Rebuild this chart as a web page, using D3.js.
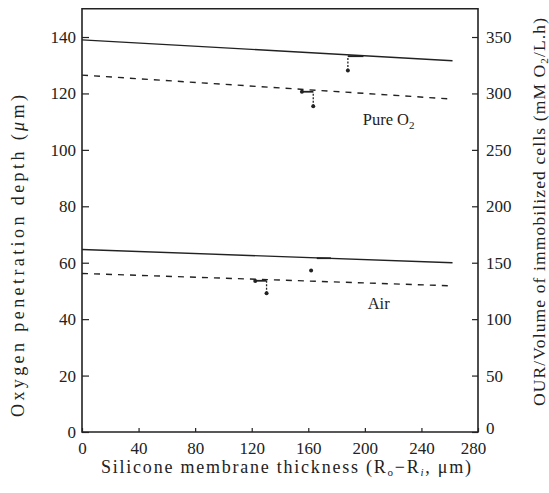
<!DOCTYPE html>
<html><head><meta charset="utf-8">
<script src="https://cdn.jsdelivr.net/npm/d3@7"></script>
<style>
html,body{margin:0;padding:0;background:#fff;}
text{font-family:"Liberation Serif","DejaVu Serif",serif;fill:#222;}
</style></head>
<body><svg id="c" width="549" height="493"></svg>
<script>
// ---- data ----
const xTicks = [0, 40, 80, 120, 160, 200, 240, 280];
const yLeftTicks = [0, 20, 40, 60, 80, 100, 120, 140];
const yRightTicks = [0, 50, 100, 150, 200, 250, 300, 350];
const lineX = [0, 262];
const pureSolid = [139.0, 131.6];
const pureDashed = [126.5, 118.0];
const airSolid = [64.7, 60.0];
const airDashed = [56.2, 51.8];
// measured points
const pointX = [188, 155.5, 163.5, 162, 122.5, 130.5];
const pointY = [128.1, 120.6, 115.5, 57.2, 53.5, 49.2];
// vertical error bars
const barX = [188, 163.5, 130.5];
const barLow = [128.1, 115.5, 49.2];
const barHigh = [133.2, 120.6, 53.6];
// horizontal markers
const capX1 = [188, 155.5, 166, 122.5];
const capX2 = [199, 163.5, 176, 130.5];
const capY = [133.2, 120.6, 61.6, 53.6];
const labels = [{t: "Pure O", sub: "2", x: 198.5, y: 111}, {t: "Air", sub: "", x: 202, y: 45.5}];

const svg = d3.select("#c");
const x = d3.scaleLinear().domain([0, 280]).range([82, 478]);
const y = d3.scaleLinear().domain([0, 150]).range([432, 8.8]);
const yR = d3.scaleLinear().domain([0, 375]).range([432, 8.8]);

const axisStyle = g => { g.select(".domain").remove(); g.selectAll("line").attr("stroke", "#222").attr("stroke-width", 1.2); g.selectAll("text").attr("font-size", 17).attr("fill", "#222").style("font-family", "Liberation Serif"); };

// frame
svg.append("path").attr("d", `M${x(0)},${y(150)}H${x(280)}V${y(0)}H${x(0)}Z`).attr("fill", "none").attr("stroke", "#222").attr("stroke-width", 1.6);

svg.append("g").attr("transform", `translate(${x(0)},0)`)
  .call(d3.axisLeft(y).tickValues(yLeftTicks).tickSize(-7).tickPadding(6).tickFormat(d3.format("d")))
  .call(axisStyle);
const gr = svg.append("g").attr("transform", `translate(${x(280)},0)`)
  .call(d3.axisRight(yR).tickValues(yRightTicks).tickSize(-6).tickPadding(8).tickFormat(d3.format("d")))
  .call(axisStyle);
const gb = svg.append("g").attr("transform", `translate(0,${y(0)})`)
  .call(d3.axisBottom(x).tickValues(xTicks).tickSize(-4).tickPadding(10).tickFormat(d3.format("d")))
  .call(axisStyle);
// the last bottom label sits slightly left of the corner, as in the original
gb.selectAll(".tick text").filter(d => d === 280).attr("dx", -5);
gr.selectAll(".tick text").filter(d => d === 0).attr("dy", "0.1em");

const line = d3.line().x(d => x(d[0])).y(d => y(d[1]));
function drawLine(vals, dashed) {
  svg.append("path").datum(lineX.map((v, i) => [v, vals[i]])).attr("d", line)
    .attr("fill", "none").attr("stroke", "#222").attr("stroke-width", 1.4)
    .attr("stroke-dasharray", dashed ? "6,6" : null);
}
drawLine(pureSolid, false);
drawLine(pureDashed, true);
drawLine(airSolid, false);
drawLine(airDashed, true);

svg.selectAll(".bar").data(barX).join("line")
  .attr("x1", d => x(d)).attr("x2", d => x(d))
  .attr("y1", (d, i) => y(barLow[i])).attr("y2", (d, i) => y(barHigh[i]))
  .attr("stroke", "#222").attr("stroke-width", 1.3).attr("stroke-dasharray", "2,1.5");
svg.selectAll(".cap").data(capX1).join("line")
  .attr("x1", d => x(d)).attr("x2", (d, i) => x(capX2[i]))
  .attr("y1", (d, i) => y(capY[i])).attr("y2", (d, i) => y(capY[i]))
  .attr("stroke", "#222").attr("stroke-width", 1.8);
svg.selectAll(".pt").data(pointX).join("circle")
  .attr("cx", d => x(d)).attr("cy", (d, i) => y(pointY[i])).attr("r", 2).attr("fill", "#222");

labels.forEach(l => {
  const t = svg.append("text").attr("x", x(l.x)).attr("y", y(l.y)).attr("dy", "0.35em").attr("font-size", 16.5).text(l.t);
  if (l.sub) t.append("tspan").attr("font-size", 11).attr("dy", 4).text(l.sub);
});

// axis titles
const xt = svg.append("text").attr("x", 286).attr("y", 473).attr("text-anchor", "middle").attr("font-size", 18)
  .attr("textLength", 370).attr("lengthAdjust", "spacing");
xt.append("tspan").text("Silicone membrane thickness (R");
xt.append("tspan").attr("font-size", 11).attr("dy", 3).text("o");
xt.append("tspan").attr("dy", -3).text("\u2212R");
xt.append("tspan").attr("font-size", 11).attr("font-style", "italic").attr("dy", 3).text("i");
xt.append("tspan").attr("dy", -3).text(", \u03bcm)");

const lt = svg.append("text").attr("transform", "translate(24,256) rotate(-90)").attr("text-anchor", "middle").attr("font-size", 18)
  .attr("textLength", 322).attr("lengthAdjust", "spacing");
lt.append("tspan").text("Oxygen penetration depth (");
lt.append("tspan").attr("font-style", "italic").text("\u03bc");
lt.append("tspan").text("m)");

const rt = svg.append("text").attr("transform", "translate(545,212) rotate(-90)").attr("text-anchor", "middle").attr("font-size", 17.5)
  .attr("textLength", 388).attr("lengthAdjust", "spacing");
rt.append("tspan").text("OUR/Volume of immobilized cells (mM O");
rt.append("tspan").attr("font-size", 11).attr("dy", 3).text("2");
rt.append("tspan").attr("dy", -3).text("/L.h)");
</script></body></html>
